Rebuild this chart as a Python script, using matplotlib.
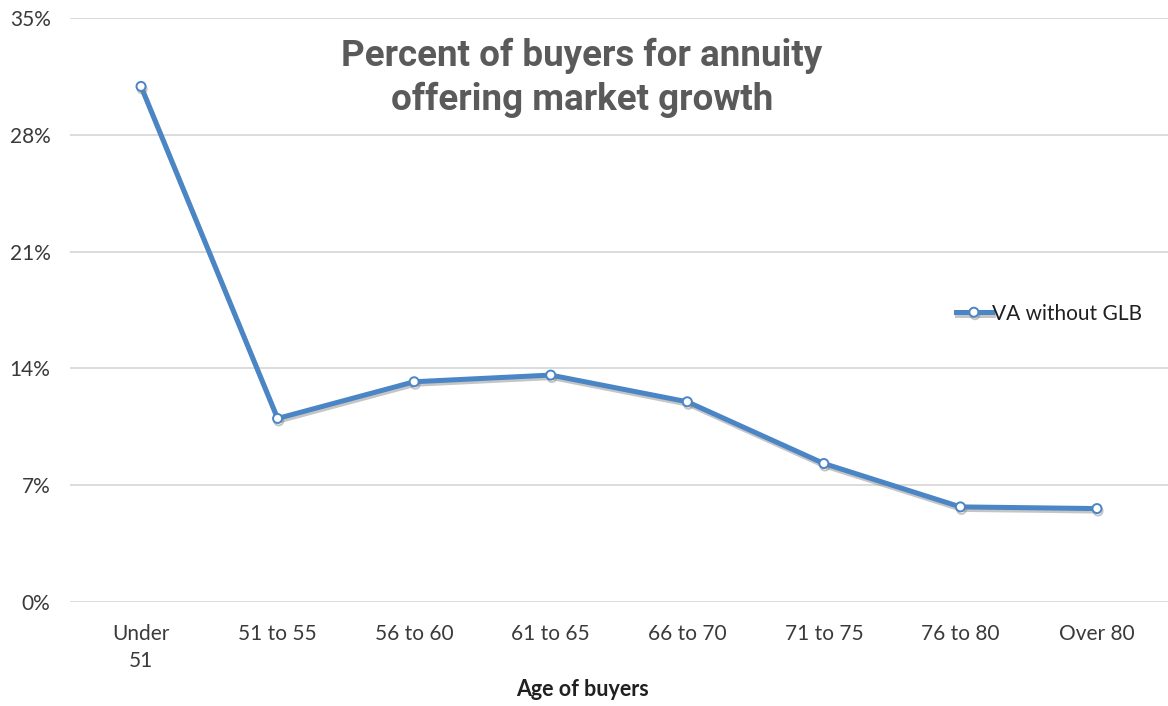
import matplotlib
matplotlib.use("Agg")
import matplotlib.pyplot as plt
import matplotlib.patheffects as pe
from matplotlib.ticker import FuncFormatter

# Share of buyers by age group
age_groups = ["Under\n51", "51 to 55", "56 to 60", "61 to 65", "66 to 70",
              "71 to 75", "76 to 80", "Over 80"]
va_without_glb = [30.9, 11.0, 13.2, 13.6, 12.0, 8.3, 5.7, 5.6]
y_ticks = [0, 7, 14, 21, 28, 35]

series_name = "VA without GLB"
title_text = "Percent of buyers for annuity\noffering market growth"
x_label = "Age of buyers"

line_color = "#4a85c6"
text_color = "#3a3a3a"
grid_color = "#d9d9d9"

fig = plt.figure(figsize=(11.68, 7.06), dpi=100)
ax = fig.add_axes([70 / 1168, 1 - 602 / 706, 1 - 70 / 1168, (602 - 18) / 706])

x = list(range(len(age_groups)))
shadow = [pe.SimpleLineShadow(offset=(0.8, -1.8), shadow_color="#7f7f7f", alpha=0.45),
          pe.Normal()]
ax.plot(x, va_without_glb, color=line_color, lw=3.6, marker="o", markersize=6.5,
        markerfacecolor="white", markeredgecolor=line_color, markeredgewidth=1.4,
        label=series_name, path_effects=shadow, zorder=3, solid_joinstyle="round")

ax.set_xlim(-0.52, len(age_groups) - 0.48)
ax.set_ylim(0, 35)
ax.set_yticks(y_ticks)
ax.yaxis.set_major_formatter(FuncFormatter(lambda v, _: f"{v:.0f}%"))
ax.set_xticks(x)
ax.set_xticklabels(age_groups)

ax.grid(axis="y", color=grid_color, lw=1.3)
ax.set_axisbelow(True)
for s in ax.spines.values():
    s.set_visible(False)
ax.tick_params(length=0, labelcolor=text_color, labelsize=15)
ax.tick_params(axis="y", pad=14)
ax.tick_params(axis="x", pad=16)
for lab in ax.get_xticklabels() + ax.get_yticklabels():
    lab.set_family("Lato")
for lab in ax.get_xticklabels():
    lab.set_verticalalignment("top")
    lab.set_linespacing(1.45)

fig.text(582 / 1168, 1 - 690 / 706, x_label, ha="center", va="center",
         family="Lato", fontweight="bold", fontsize=15.5, color="#202020")

fig.text(582 / 1168, 1 - 78 / 706, title_text, ha="center", va="center",
         family="Roboto", fontweight="bold", fontsize=26.5, color="#5a5a5a",
         linespacing=1.3)

leg = ax.legend(loc="center left", bbox_to_anchor=(0.79, 0.494), frameon=False,
                prop={"family": "Lato", "size": 15}, handlelength=1.7,
                handletextpad=0.0, labelcolor="#202020")

fig.savefig("out.png", dpi=100)
